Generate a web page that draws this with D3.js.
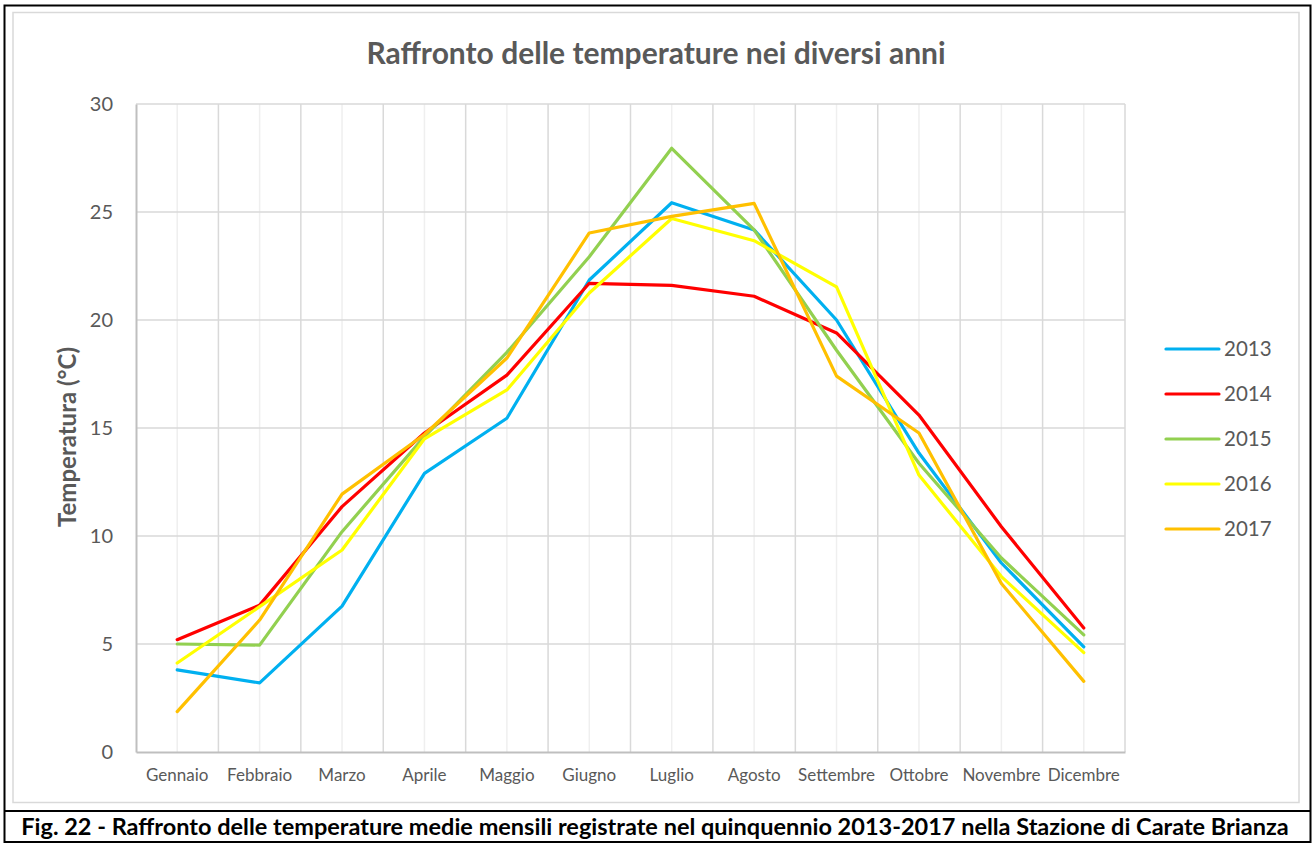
<!DOCTYPE html>
<html>
<head>
<meta charset="utf-8">
<script src="https://cdn.jsdelivr.net/npm/d3@7"></script>
<style>
  body { margin: 0; background: #fff; }
  svg { display: block; font-family: Lato, "Open Sans", sans-serif; }
</style>
</head>
<body>
<div id="chart"></div>
<script>
const mesi = ['Gennaio','Febbraio','Marzo','Aprile','Maggio','Giugno','Luglio','Agosto','Settembre','Ottobre','Novembre','Dicembre']
const anni = ['2013','2014','2015','2016','2017']
const colori = ['#00B0F0','#FF0000','#92D050','#FFFF00','#FFC000']
const t2013 = [3.8, 3.2, 6.75, 12.9, 15.45, 21.85, 25.43, 24.17, 20.0, 13.84, 8.75, 4.87]
const t2014 = [5.2, 6.8, 11.36, 14.77, 17.45, 21.7, 21.6, 21.1, 19.4, 15.6, 10.43, 5.74]
const t2015 = [5.0, 4.95, 10.2, 14.6, 18.5, 22.93, 27.95, 24.17, 18.6, 13.37, 8.98, 5.42]
const t2016 = [4.12, 6.73, 9.35, 14.5, 16.76, 21.25, 24.7, 23.67, 21.53, 12.82, 8.12, 4.6]
const t2017 = [1.87, 6.11, 11.94, 14.7, 18.24, 24.03, 24.8, 25.4, 17.4, 14.77, 7.8, 3.27]
const yTicks = [0, 5, 10, 15, 20, 25, 30]

const serie = [t2013, t2014, t2015, t2016, t2017]

init()

function init(){
    const W = 1312, H = 843
    let svg = d3.select('#chart')
                .append('svg')
                .attr('width', W)
                .attr('height', H)

    // outer black frame + caption separator
    svg.append('rect')
        .attr('x', 4.5).attr('y', 5.5)
        .attr('width', 1306).attr('height', 836.5)
        .style('fill', 'none').style('stroke', '#000').style('stroke-width', 2)
    svg.append('line')
        .attr('x1', 4).attr('x2', 1311).attr('y1', 811).attr('y2', 811)
        .style('stroke', '#000').style('stroke-width', 2)

    // chart area frame
    svg.append('rect')
        .attr('x', 13).attr('y', 12.5)
        .attr('width', 1286).attr('height', 790)
        .style('fill', '#fff').style('stroke', '#d9d9d9').style('stroke-width', 1.5)

    const plot = {left: 136, right: 1125, top: 104, bottom: 752}

    const x = d3.scaleBand()
        .domain(mesi)
        .range([plot.left, plot.right])

    const y = d3.scaleLinear()
        .domain([0, 30])
        .range([plot.bottom, plot.top])

    // minor vertical gridlines (category centers)
    svg.append('g').selectAll('line')
        .data(mesi)
        .join('line')
        .attr('x1', d => x(d) + x.bandwidth() / 2)
        .attr('x2', d => x(d) + x.bandwidth() / 2)
        .attr('y1', plot.top).attr('y2', plot.bottom)
        .style('stroke', '#efefef').style('stroke-width', 1.5)

    // major vertical gridlines (category boundaries)
    svg.append('g').selectAll('line')
        .data(mesi.slice(1).concat(['__end']))
        .join('line')
        .attr('x1', d => d === '__end' ? plot.right : x(d))
        .attr('x2', d => d === '__end' ? plot.right : x(d))
        .attr('y1', plot.top).attr('y2', plot.bottom)
        .style('stroke', '#d9d9d9').style('stroke-width', 1.5)

    // horizontal gridlines
    svg.append('g').selectAll('line')
        .data(yTicks.slice(1))
        .join('line')
        .attr('x1', plot.left).attr('x2', plot.right)
        .attr('y1', d => y(d)).attr('y2', d => y(d))
        .style('stroke', '#d9d9d9').style('stroke-width', 1.5)

    // y axis
    let yAxis = svg.append('g')
        .attr('transform', `translate(${plot.left},0)`)
        .call(d3.axisLeft(y).tickValues(yTicks).tickSize(0).tickPadding(23))
    yAxis.select('.domain').style('stroke', '#bfbfbf').style('stroke-width', 2)
    yAxis.selectAll('text')
        .style('font-size', '20px').style('fill', '#595959')
        .style('font-family', 'Lato, sans-serif')

    // x axis
    let xAxis = svg.append('g')
        .attr('transform', `translate(0,${plot.bottom})`)
        .call(d3.axisBottom(x).tickSize(0).tickPadding(17))
    xAxis.select('.domain').style('stroke', '#bfbfbf').style('stroke-width', 2)
    xAxis.selectAll('text')
        .style('font-size', '17px').style('fill', '#595959')
        .style('font-family', 'Lato, sans-serif')

    // lines
    const line = d3.line()
        .x((d, i) => x(mesi[i]) + x.bandwidth() / 2)
        .y(d => y(d))

    svg.append('g').selectAll('path')
        .data(serie)
        .join('path')
        .attr('d', d => line(d))
        .style('fill', 'none')
        .style('stroke', (d, i) => colori[i])
        .style('stroke-width', 3.2)
        .style('stroke-linejoin', 'round')
        .style('stroke-linecap', 'round')

    // title
    svg.append('text')
        .attr('x', 656).attr('y', 64)
        .attr('text-anchor', 'middle')
        .style('font-size', '30px').style('font-weight', 'bold')
        .style('fill', '#595959')
        .text('Raffronto delle temperature nei diversi anni')

    // y axis title
    svg.append('text')
        .attr('transform', 'translate(76,437) rotate(-90)')
        .attr('text-anchor', 'middle')
        .style('font-size', '24px').style('font-weight', 'bold')
        .style('fill', '#595959')
        .text('Temperatura (°C)')

    // legend
    let legend = svg.append('g').selectAll('g')
        .data(anni)
        .join('g')
        .attr('transform', (d, i) => `translate(1166,${349 + i * 45})`)
    legend.append('line')
        .attr('x1', 0).attr('x2', 53)
        .style('stroke', (d, i) => colori[i])
        .style('stroke-width', 3.2)
        .style('stroke-linecap', 'round')
    legend.append('text')
        .attr('x', 58).attr('y', 7)
        .style('font-size', '20.5px').style('fill', '#595959')
        .text(d => d)

    // caption
    svg.append('text')
        .attr('x', 655).attr('y', 835)
        .attr('text-anchor', 'middle')
        .style('font-size', '23.5px').style('font-weight', 'bold')
        .style('fill', '#000')
        .text('Fig. 22 - Raffronto delle temperature medie mensili registrate nel quinquennio 2013-2017 nella Stazione di Carate Brianza')
}
</script>
</body>
</html>
